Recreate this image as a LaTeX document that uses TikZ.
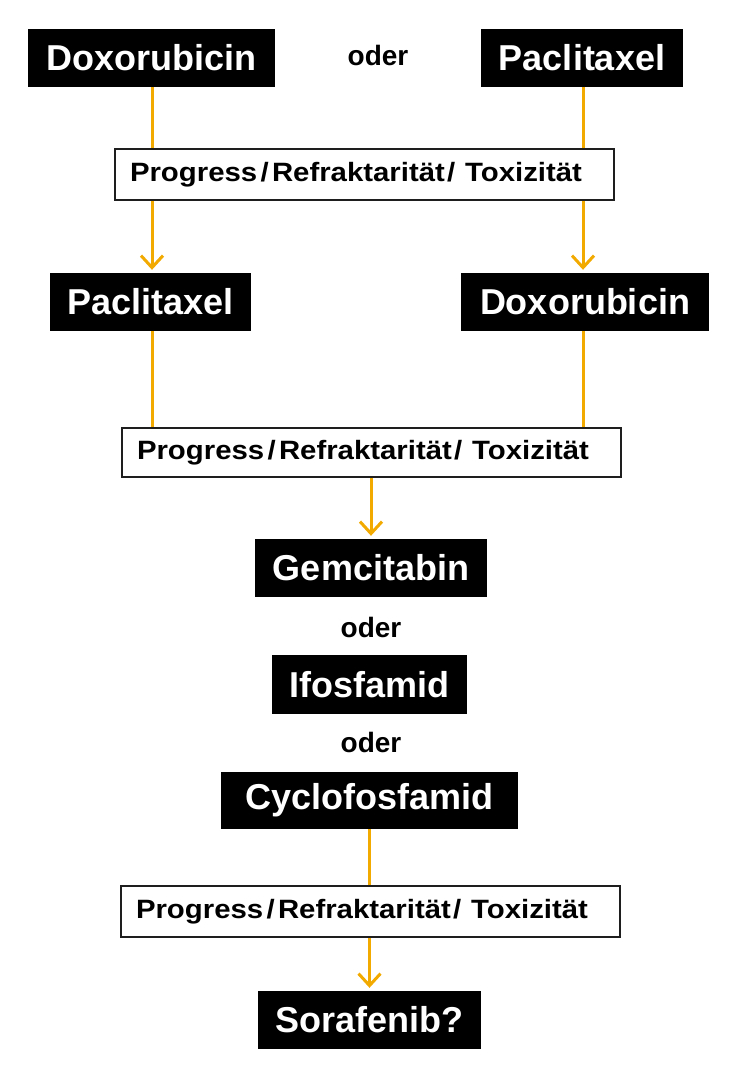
\documentclass[tikz,border=0pt]{standalone}
\usepackage{fontspec}
\setmainfont{Liberation Sans}
\usetikzlibrary{arrows.meta}
\definecolor{arroworange}{RGB}{242,169,0}
\definecolor{boxedge}{RGB}{30,30,30}
\tikzset{
  drug/.style={fill=black, text=white, inner sep=0pt, minimum height=58pt,
    font=\fontsize{36}{40}\selectfont\bfseries},
  orword/.style={inner sep=0pt, font=\fontsize{28}{32}\selectfont\bfseries},
  progbox/.style={draw=boxedge, line width=1.6pt, fill=white, minimum height=51pt,
    inner xsep=15pt, inner ysep=0pt, text width=469pt, align=left,
    font=\fontsize{26.5}{30}\selectfont\bfseries},
  conn/.style={draw=arroworange, line width=3pt},
  connarrow/.style={conn, -{Straight Barb[length=12pt,width=22pt]}, shorten >=3pt}
}
\newcommand{\progtext}{\resizebox{452pt}{\height}{Progress\kern3pt/\kern3ptRefraktarität\kern2pt/ Toxizität}}
\begin{document}
\begin{tikzpicture}[x=1pt,y=-1pt]
\useasboundingbox (0,0) rectangle (750,1076);
% nodes
\node[drug, minimum width=247pt] (dox1) at (151.5,58) {Doxorubicin};
\node[drug, minimum width=202pt] (pac1) at (582,58) {Paclitaxel};
\node[orword] (or0) at (378,55) {oder};
\node[progbox] (prog1) at (364.5,174.5) {\progtext};
\node[drug, minimum width=201pt] (pac2) at (150.5,302) {Paclitaxel};
\node[drug, minimum width=248pt] (dox2) at (585,302) {Doxorubicin};
\node[progbox, minimum height=49pt] (prog2) at (371.5,452.5) {\progtext};
\node[drug, minimum width=232pt] (gem) at (371,568) {Gemcitabin};
\node[orword] (or1) at (371,627) {oder};
\node[drug, minimum width=195pt, minimum height=59pt] (ifo) at (369.5,684.5) {Ifosfamid};
\node[orword] (or2) at (371,742) {oder};
\node[drug, minimum width=297pt, minimum height=57pt] (cyc) at (369.5,800.5) {Cyclofosfamid};
\node[progbox] (prog3) at (370.5,911.5) {\progtext};
\node[drug, minimum width=223pt] (sor) at (369.5,1020) {Sorafenib?};
% coordinates for the vertical tracks
\coordinate (lx) at (152,0);
\coordinate (rx) at (583,0);
% connectors
\draw[conn] (dox1.south -| lx) -- (prog1.north -| lx);
\draw[connarrow] (prog1.south -| lx) -- (pac2.north -| lx);
\draw[conn] (pac1.south -| rx) -- (prog1.north -| rx);
\draw[connarrow] (prog1.south -| rx) -- (dox2.north -| rx);
\draw[conn] (pac2.south -| lx) -- (prog2.north -| lx);
\draw[conn] (dox2.south -| rx) -- (prog2.north -| rx);
\draw[connarrow] (prog2.south -| gem.north) -- (gem.north);
\draw[conn] (cyc.south) -- (prog3.north -| cyc.south);
\draw[connarrow] (prog3.south -| sor.north) -- (sor.north);
\end{tikzpicture}
\end{document}
